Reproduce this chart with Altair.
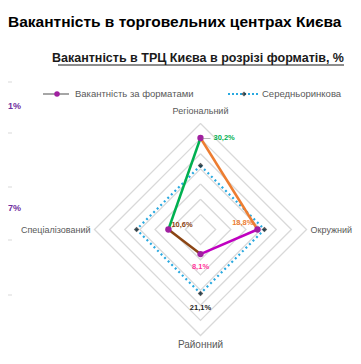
import altair as alt
import pandas as pd
import numpy as np

# ---- data ----
categories = ["Регіональний", "Окружний", "Районний", "Спеціалізований"]
values = [30.2, 18.8, 8.1, 10.6]
market_avg = [21.1, 21.1, 21.1, 21.1]
segment_colors = ["#ED7D31", "#C000C0", "#8B4513", "#00B050"]
label_colors = ["#00B050", "#ED7D31", "#FF3399", "#8B4513"]
grid_levels = [5, 10, 15, 20, 25, 30, 35]
value_labels = ["30,2%", "18,8%", "8,1%", "10,6%"]
avg_label = "21,1%"

FONT = "Liberation Sans"
PX = 3.03  # px per unit
W, H = 345, 348
CX, CY = 192.5, 221.5  # centre in plot pixels
xdom = [-CX / PX, (W - CX) / PX]
ydom = [-(H - CY) / PX, CY / PX]

# unit directions: top, right, bottom, left
dirs = [(0, 1), (1, 0), (0, -1), (-1, 0)]

def pos(v, i):
    return v * dirs[i][0], v * dirs[i][1]

xs = alt.X("x:Q", scale=alt.Scale(domain=xdom, nice=False, zero=False), axis=None)
ys = alt.Y("y:Q", scale=alt.Scale(domain=ydom, nice=False, zero=False), axis=None)

# grid
grid_rows = []
for g in grid_levels:
    for k in range(5):
        x, y = pos(g, k % 4)
        grid_rows.append({"g": g, "o": k, "x": x, "y": y})
grid = alt.Chart(pd.DataFrame(grid_rows)).mark_line(
    color="#D9D9D9", strokeWidth=1.3
).encode(x=xs, y=ys, detail="g:N", order="o:Q")

# average dotted
avg_rows = []
for k in range(5):
    x, y = pos(market_avg[k % 4], k % 4)
    avg_rows.append({"o": k, "x": x, "y": y})
avg_line = alt.Chart(pd.DataFrame(avg_rows)).mark_line(
    color="#29A9E0", strokeWidth=2.2, strokeDash=[2, 3]
).encode(x=xs, y=ys, order="o:Q")
avg_pts = alt.Chart(pd.DataFrame(avg_rows[:4])).mark_point(
    shape="diamond", filled=True, color="#1a1a1a", size=30
).encode(x=xs, y=ys)

# segments
seg_rows = []
for i in range(4):
    j = (i + 1) % 4
    for o, idx in enumerate([i, j]):
        x, y = pos(values[idx], idx)
        seg_rows.append({"s": i, "o": o, "x": x, "y": y, "c": segment_colors[i]})
segs = alt.Chart(pd.DataFrame(seg_rows)).mark_line(strokeWidth=2.5).encode(
    x=xs, y=ys, detail="s:N", order="o:Q", color=alt.Color("c:N", scale=None)
)
pts_df = pd.DataFrame(
    [{"x": pos(values[i], i)[0], "y": pos(values[i], i)[1], "lab": value_labels[i],
      "c": label_colors[i]} for i in range(4)]
)
pts = alt.Chart(pts_df).mark_circle(color="#A020A0", size=40, opacity=1).encode(x=xs, y=ys)

# value labels with per-point offsets
offs = [(13, 0, "left"), (-4, -7, "right"), (0, 13, "center"), (3, -5, "left")]
lab_layers = []
for i in range(4):
    dx, dy, al = offs[i]
    lab_layers.append(
        alt.Chart(pts_df.iloc[[i]]).mark_text(
            dx=dx, dy=dy, align=al, baseline="middle", font=FONT, fontSize=7.5,
            fontWeight="bold", color=label_colors[i]
        ).encode(x=xs, y=ys, text="lab:N")
    )
# leader for top label
lead_top = alt.Chart(pts_df.iloc[[0]]).mark_text(
    text="—", dx=6, dy=0, font=FONT, fontSize=8, color="#808080"
).encode(x=xs, y=ys)
avg_lab = alt.Chart(pd.DataFrame([{"x": pos(market_avg[2], 2)[0], "y": pos(market_avg[2], 2)[1], "t": avg_label}])).mark_text(
    dy=15, font=FONT, fontSize=7.5, fontWeight="bold", color="#262626", baseline="middle"
).encode(x=xs, y=ys, text="t:N")

# axis category labels
cat_off = [(0, -7, "center", "bottom"), (4, 0, "left", "middle"), (0, 4, "center", "top"), (-4, 0, "right", "middle")]
cat_layers = []
for i in range(4):
    x, y = pos(35, i)
    dx, dy, al, bl = cat_off[i]
    cat_layers.append(
        alt.Chart(pd.DataFrame([{"x": x, "y": y, "t": categories[i]}])).mark_text(
            dx=dx, dy=dy, align=al, baseline=bl, font=FONT,
            fontSize=10 if i == 2 else 9, color="#595959"
        ).encode(x=xs, y=ys, text="t:N")
    )

# titles & legend (annotation layer, pixel positioned)
def ptext(t, x, y, **kw):
    return alt.Chart(pd.DataFrame({"t": [t]})).mark_text(font=FONT, **kw).encode(
        text="t:N", x=alt.value(x), y=alt.value(y))

def prule(x1, x2, y, **kw):
    return alt.Chart(pd.DataFrame({"a": [0]})).mark_rule(**kw).encode(
        x=alt.value(x1), x2=alt.value(x2), y=alt.value(y))

title = ptext("Вакантність в торговельних центрах Києва", 0, 14, fontSize=15.5,
              fontWeight="bold", align="left", baseline="middle", color="#000000")
subtitle = ptext("Вакантність в ТРЦ Києва в розрізі форматів, %", 336, 50, fontSize=12.5,
                 fontWeight="bold", align="right", baseline="middle", color="#1a1a1a")
underline = prule(50, 336, 57, color="#1a1a1a", strokeWidth=1)
leg_line1 = prule(35, 61, 86, color="#A6A6A6", strokeWidth=2)
leg_dot1 = alt.Chart(pd.DataFrame({"a": [0]})).mark_circle(color="#A020A0", size=30, opacity=1).encode(
    x=alt.value(49), y=alt.value(86))
leg_txt1 = ptext("Вакантність за форматами", 67, 86, fontSize=9.5, align="left",
                 baseline="middle", color="#595959")
leg_line2 = prule(220, 250, 86, color="#29A9E0", strokeWidth=2, strokeDash=[2, 2])
leg_dot2 = alt.Chart(pd.DataFrame({"a": [0]})).mark_point(shape="diamond", filled=True, color="#1a1a1a", size=25).encode(
    x=alt.value(236), y=alt.value(86))
leg_txt2 = ptext("Середньоринкова", 254, 86, fontSize=9.5, align="left",
                 baseline="middle", color="#595959")

# cut-off fragments at the left edge
frag1 = ptext("1%", 0, 98, fontSize=9, fontWeight="bold", align="left", baseline="middle", color="#7030A0")
frag2 = ptext("7%", 0, 200, fontSize=9, fontWeight="bold", align="left", baseline="middle", color="#7030A0")
frag_ticks = [prule(0, 4, yy, color="#D9D9D9", strokeWidth=1) for yy in (74, 125, 179, 232, 287)]

chart = alt.layer(
    grid, avg_line, segs, avg_pts, pts, lead_top, avg_lab, *lab_layers, *cat_layers,
    title, subtitle, underline, leg_line1, leg_dot1, leg_txt1, leg_line2, leg_dot2, leg_txt2,
    frag1, frag2, *frag_ticks,
).properties(width=W, height=H, padding=0, autosize="none", background="white").configure_view(stroke=None)

chart.save("out.html", embed_options={"renderer": "svg", "actions": False})
